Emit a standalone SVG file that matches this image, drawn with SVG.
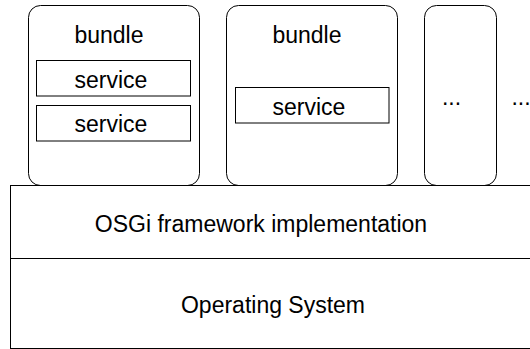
<svg xmlns="http://www.w3.org/2000/svg" width="530" height="349" viewBox="0 0 530 349">
<style>
.b{fill:#fff;stroke:#000;stroke-width:1}
text{font-family:"Liberation Sans",Arial,sans-serif;font-size:23px;fill:#000;text-anchor:middle}
</style>
<rect width="530" height="349" fill="#fff"/>
<g id="bundle1">
<rect class="b" x="28.5" y="5.5" width="171" height="180" rx="12" ry="12"/>
<text x="109" y="42.5">bundle</text>
<g id="service1a"><rect class="b" x="36.5" y="60.5" width="154" height="35.5"/><text x="111" y="87.5">service</text></g>
<g id="service1b"><rect class="b" x="36.5" y="105.5" width="154" height="35.5"/><text x="111" y="131.8">service</text></g>
</g>
<g id="bundle2">
<rect class="b" x="226.5" y="5.5" width="171" height="180" rx="12" ry="12"/>
<text x="307" y="42.5">bundle</text>
<g id="service2"><rect class="b" x="235.5" y="87.5" width="153.5" height="35.5"/><text x="309" y="114.8">service</text></g>
</g>
<g id="bundle3">
<rect class="b" x="424.5" y="5.5" width="72" height="180" rx="12" ry="12"/>
<text x="451.5" y="105">...</text>
</g>
<g id="more"><text x="521" y="105">...</text></g>
<g id="framework">
<rect class="b" x="10.5" y="185.5" width="530" height="73"/>
<text x="261" y="231.7">OSGi framework implementation</text>
</g>
<g id="os">
<rect class="b" x="10.5" y="258.5" width="530" height="90"/>
<text x="273" y="312.7">Operating System</text>
</g>
<g id="connectors"></g>
</svg>
